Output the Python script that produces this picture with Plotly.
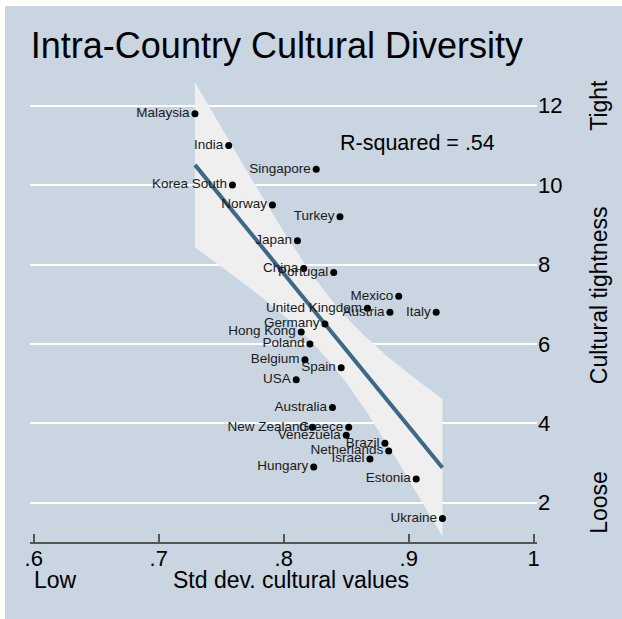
import numpy as np
import plotly.graph_objects as go

# ---- data ----
countries = ["Malaysia", "India", "Singapore", "Korea South", "Norway", "Turkey", "Japan",
             "China", "Portugal", "Mexico", "United Kingdom", "Austria", "Italy", "Germany",
             "Hong Kong", "Poland", "Belgium", "Spain", "USA", "Australia", "New Zealand",
             "Greece", "Venezuela", "Brazil", "Netherlands", "Israel", "Hungary", "Estonia",
             "Ukraine"]
std_dev = [0.729, 0.756, 0.826, 0.759, 0.791, 0.845, 0.811,
           0.816, 0.840, 0.892, 0.867, 0.885, 0.922, 0.833,
           0.814, 0.821, 0.817, 0.846, 0.810, 0.839, 0.823,
           0.852, 0.850, 0.881, 0.884, 0.869, 0.824, 0.906,
           0.927]
tightness = [11.8, 11.0, 10.4, 10.0, 9.5, 9.2, 8.6,
             7.9, 7.8, 7.2, 6.9, 6.8, 6.8, 6.5,
             6.3, 6.0, 5.6, 5.4, 5.1, 4.4, 3.9,
             3.9, 3.7, 3.5, 3.3, 3.1, 2.9, 2.6,
             1.6]
x_ticks = [0.6, 0.7, 0.8, 0.9, 1.0]
x_ticktext = [".6", ".7", ".8", ".9", "1"]
y_ticks = [2, 4, 6, 8, 10, 12]
r2_text = "R-squared = .54"
t_crit = 2.052  # t(0.975, df=27)

# ---- linear fit with 95% CI (mean prediction) ----
x = np.array(std_dev)
y = np.array(tightness)
n = len(x)
b1, b0 = np.polyfit(x, y, 1)
resid = y - (b0 + b1 * x)
s = np.sqrt(np.sum(resid ** 2) / (n - 2))
sxx = np.sum((x - x.mean()) ** 2)
xg = np.linspace(x.min(), x.max(), 120)
yg = b0 + b1 * xg
se = s * np.sqrt(1.0 / n + (xg - x.mean()) ** 2 / sxx)
upper = yg + t_crit * se
lower = yg - t_crit * se

BG = "#C9D5E0"
FONT = "Liberation Sans, Arial, Helvetica, sans-serif"

fig = go.Figure()
fig.add_trace(go.Scatter(
    x=np.concatenate([xg, xg[::-1]]), y=np.concatenate([upper, lower[::-1]]),
    fill="toself", fillcolor="#EFEFEF", line=dict(width=0), mode="lines",
    hoverinfo="skip", showlegend=False))
fig.add_trace(go.Scatter(
    x=xg, y=yg, mode="lines", line=dict(color="#3E6986", width=4),
    hoverinfo="skip", showlegend=False))
fig.add_trace(go.Scatter(
    x=std_dev, y=tightness, text=countries, mode="markers+text",
    textposition="middle left",
    marker=dict(color="black", size=7),
    textfont=dict(family=FONT, size=13.5, color="#1a1a1a"),
    showlegend=False))

fig.update_layout(
    width=622, height=619,
    margin=dict(l=30, r=85, t=66, b=77),
    paper_bgcolor=BG, plot_bgcolor=BG,
    font=dict(family=FONT, color="black"),
    title=dict(text="Intra-Country Cultural Diversity", x=0.487, xref="paper",
               xanchor="center", y=1 - 45 / 619, yanchor="middle",
               font=dict(size=36, family=FONT, color="black")),
    xaxis=dict(range=[0.59704, 1.00264], tickvals=x_ticks, ticktext=x_ticktext,
               ticks="inside", ticklen=8, tickwidth=1.5, tickcolor="#555",
               showline=True, linecolor="#555", linewidth=1.5,
               showgrid=False, zeroline=False, ticklabelstandoff=-4,
               tickfont=dict(size=22, family=FONT, color="black")),
    yaxis=dict(range=[1.01, 13.0], tickvals=y_ticks, side="right",
               showgrid=True, gridcolor="white", gridwidth=2,
               showline=False, ticks="", zeroline=False,
               tickfont=dict(size=22, family=FONT, color="black")),
    shapes=[
        dict(type="rect", xref="paper", yref="paper", x0=-0.07, x1=-0.0493,
             y0=-0.3, y1=1.3, fillcolor="white", line=dict(width=0), layer="below"),
        dict(type="rect", xref="paper", yref="paper", x0=-0.07, x1=1.3,
             y0=1.126, y1=1.3, fillcolor="white", line=dict(width=0), layer="below"),
    ],
    annotations=[
        dict(text=r2_text, x=0.9706, y=11.06, xref="x", yref="y", xanchor="right",
             yanchor="middle", showarrow=False, font=dict(size=21.5, family=FONT)),
        dict(text="Low", x=0.5986, y=-0.08, xref="x", yref="paper", xanchor="left",
             yanchor="middle", showarrow=False, font=dict(size=23, family=FONT)),
        dict(text="Std dev. cultural values", x=0.806, y=-0.08, xref="x", yref="paper",
             xanchor="center", yanchor="middle", showarrow=False,
             font=dict(size=23, family=FONT)),
        dict(text="High", x=1.0227, y=-0.08, xref="x", yref="paper", xanchor="right",
             yanchor="middle", showarrow=False, font=dict(size=23, family=FONT)),
        dict(text="Tight", x=1.1225, y=12, xref="paper", yref="y", textangle=-90,
             xanchor="center", yanchor="middle", showarrow=False,
             font=dict(size=23, family=FONT)),
        dict(text="Loose", x=1.1225, y=2, xref="paper", yref="y", textangle=-90,
             xanchor="center", yanchor="middle", showarrow=False,
             font=dict(size=23, family=FONT)),
        dict(text="Cultural tightness", x=1.1225, y=7.23, xref="paper", yref="y",
             textangle=-90, xanchor="center", yanchor="middle", showarrow=False,
             font=dict(size=23, family=FONT)),
    ],
)

fig.write_html(
    "out.html",
    config={"displayModeBar": False},
    post_script=(
        "document.body.style.margin='0';"
        "document.body.style.overflow='hidden';"
        "document.documentElement.style.overflow='hidden';"
        "document.body.style.background='" + BG + "';"
        "document.documentElement.style.background='" + BG + "';"
    ),
)
